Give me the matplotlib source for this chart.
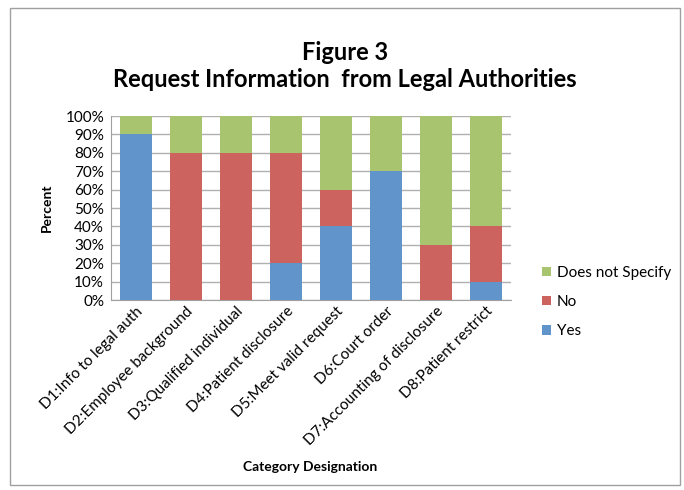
import matplotlib
matplotlib.use("Agg")
import matplotlib.pyplot as plt
from matplotlib.patches import Rectangle
from matplotlib.ticker import MultipleLocator, PercentFormatter

plt.rcParams['font.family'] = ['Lato', 'DejaVu Sans']

categories = ['D1:Info to legal auth', 'D2:Employee background', 'D3:Qualified individual',
              'D4:Patient disclosure', 'D5:Meet valid request', 'D6:Court order',
              'D7:Accounting of disclosure', 'D8:Patient restrict']
yes = [90, 0, 0, 20, 40, 70, 0, 10]
no = [0, 80, 80, 60, 20, 0, 30, 30]
not_specified = [10, 20, 20, 20, 40, 30, 70, 60]

blue = '#6094cb'
red = '#cd635e'
green = '#a8c46e'

fig = plt.figure(figsize=(6.84, 4.9), dpi=100)
ax = fig.add_axes([111 / 684, 1 - 300 / 490, 400 / 684, 184 / 490])

x = range(len(categories))
w = 0.64
ax.bar(x, yes, w, color=blue, label='Yes', zorder=3)
ax.bar(x, no, w, bottom=yes, color=red, label='No', zorder=3)
bottom2 = [a + b for a, b in zip(yes, no)]
ax.bar(x, not_specified, w, bottom=bottom2, color=green, label='Does not Specify', zorder=3)

ax.set_xlim(-0.5, len(categories) - 0.5)
ax.set_ylim(0, 100)
ax.yaxis.set_major_locator(MultipleLocator(10))
ax.yaxis.set_major_formatter(PercentFormatter(decimals=0))
ax.grid(axis='y', color='#b0b0b0', linewidth=1, zorder=0)
for s in ['top', 'right']:
    ax.spines[s].set_visible(False)
for s in ['left', 'bottom']:
    ax.spines[s].set_color('#a0a0a0')
ax.tick_params(axis='y', length=0, labelsize=11, pad=5)
ax.tick_params(axis='x', length=0, labelsize=11, pad=3)
ax.set_xticks(list(x))
ax.set_xticklabels(categories, rotation=45, ha='right', rotation_mode='anchor')

ax.set_ylabel('Percent', fontsize=10, fontweight='bold', labelpad=9)
fig.text(310 / 684, 1 - 467 / 490, 'Category Designation', ha='center', va='center',
         fontsize=10, fontweight='bold')
fig.text(345 / 684, 1 - 66 / 490, 'Figure 3\nRequest Information  from Legal Authorities',
         ha='center', va='center', fontsize=17, fontweight='bold', linespacing=1.25)

handles, labels = ax.get_legend_handles_labels()
fig.legend(handles[::-1], labels[::-1], loc='upper left', bbox_to_anchor=(528 / 684, 1 - 252 / 490),
           frameon=False, fontsize=11, handlelength=0.6, handleheight=0.6,
           handletextpad=0.4, labelspacing=1.0)

fig.add_artist(Rectangle((10 / 684, 5 / 490), 670 / 684, 1 - 13 / 490,
                         transform=fig.transFigure, fill=False,
                         edgecolor='#a0a0a0', linewidth=1))

fig.savefig('out.png', dpi=100)
